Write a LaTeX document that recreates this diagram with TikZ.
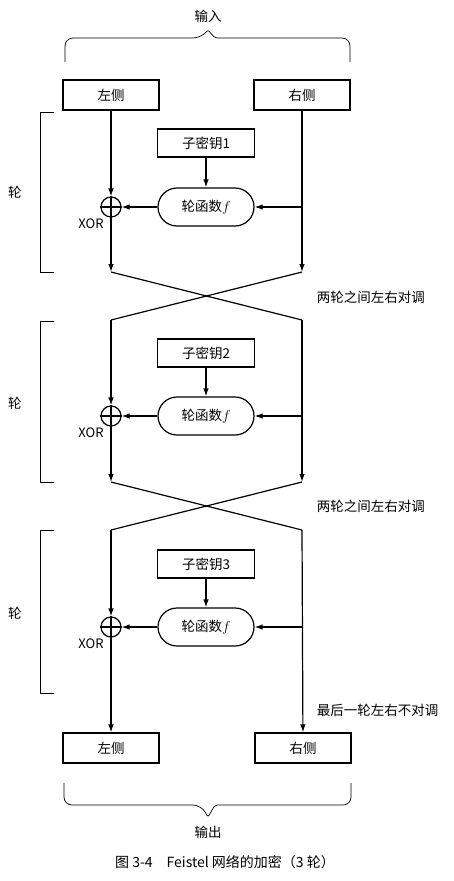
\documentclass[tikz,border=0pt]{standalone}
\usepackage{fontspec}
\setmainfont{Noto Sans CJK SC}
\usetikzlibrary{arrows.meta}

\begin{document}
\begin{tikzpicture}[x=1pt,y=-1pt,line width=1.2pt,>={Latex[length=8pt,width=5.5pt]},
  font=\fontsize{13.5}{15}\selectfont,
  box/.style={draw,minimum width=96pt,minimum height=30pt,inner sep=0pt},
  keybox/.style={draw,minimum width=97pt,minimum height=28pt,inner sep=0pt},
  func/.style={draw,rounded corners=19pt,minimum width=96pt,minimum height=38pt,inner sep=0pt},
  xorc/.style={draw,circle,minimum size=20pt,inner sep=0pt},
  thin/.style={line width=0.6pt},
  xorlab/.style={font=\fontsize{13}{15}\selectfont}]
\useasboundingbox (0,0) rectangle (454,881);
% input
  \node (inlab) at (208,16) {输入};
  \draw[line width=0.7pt,rounded corners=8pt] (65,62) |- (201,38) [rounded corners=2pt] -- (208,30) -- (215,38) [rounded corners=8pt] -| (350,62);
  \node[box] (inL) at (111,95) {左侧};
  \node[box] (inR) at (302,95) {右侧};

% round 1
  \draw[thin] (54,112) -- (40,112) -- (40,272) -- (54,272);
  \node (r1) at (15,192) {轮};
  \node[keybox] (k1) at (206,143) {子密钥1};
  \node[func] (f1) at (206,207) {轮函数$f$};
  \node[xorc] (x1) at (111,207) {};
  \node[xorlab] (xl1) at (91,224) {XOR};
  \coordinate (b1) at (302,207);
  \coordinate (cL1) at (111,272);
  \coordinate (cR1) at (302,272);
 \draw[->] (k1) -- (f1);
 \draw[->] (inL) -- (x1.north);
 \draw (x1.north) -- (x1.south) (x1.west) -- (x1.east);
 \draw[->] (x1.south) -- (cL1);
 \draw[->] (inR) -- (cR1);
 \draw[->] (b1) -- (f1.east);
 \draw[->] (f1.west) -- (x1.east);

% swap 1
  \coordinate (tL2) at (111,320);
  \coordinate (tR2) at (302,320);
 \draw (cL1) -- (tR2);
 \draw (cR1) -- (tL2);
  \node[anchor=west] (sw1) at (313,297) {两轮之间左右对调};

% round 2
  \draw[thin] (54,321) -- (40,321) -- (40,482) -- (54,482);
  \node (r2) at (15,403) {轮};
  \node[keybox] (k2) at (206,353) {子密钥2};
  \node[func] (f2) at (206,416) {轮函数$f$};
  \node[xorc] (x2) at (111,416) {};
  \node[xorlab] (xl2) at (91,433) {XOR};
  \coordinate (b2) at (302,416);
  \coordinate (cL2) at (111,482);
  \coordinate (cR2) at (302,482);
 \draw[->] (k2) -- (f2);
 \draw[->] (tL2) -- (x2.north);
 \draw (x2.north) -- (x2.south) (x2.west) -- (x2.east);
 \draw[->] (x2.south) -- (cL2);
 \draw[->] (tR2) -- (cR2);
 \draw[->] (b2) -- (f2.east);
 \draw[->] (f2.west) -- (x2.east);

% swap 2
  \coordinate (tL3) at (111,530);
  \coordinate (tR3) at (302,530);
 \draw (cL2) -- (tR3);
 \draw (cR2) -- (tL3);
  \node[anchor=west] (sw2) at (313,506) {两轮之间左右对调};

% round 3
  \draw[thin] (54,530) -- (40,530) -- (40,693) -- (54,693);
  \node (r3) at (15,613) {轮};
  \node[keybox] (k3) at (206,564) {子密钥3};
  \node[func] (f3) at (206,627) {轮函数$f$};
  \node[xorc] (x3) at (111,627) {};
  \node[xorlab] (xl3) at (91,644) {XOR};
  \coordinate (b3) at (302,627);
 \draw[->] (k3) -- (f3);
 \draw[->] (tL3) -- (x3.north);
 \draw (x3.north) -- (x3.south) (x3.west) -- (x3.east);
 \draw[->] (b3) -- (f3.east);
 \draw[->] (f3.west) -- (x3.east);

% output
  \node[box] (outL) at (111,748) {左侧};
  \node[box] (outR) at (303,748) {右侧};
 \draw[->] (x3.south) -- (outL);
 \draw[->] (tR3) -- (outR);
  \node[anchor=west] (nosw) at (313,710) {最后一轮左右不对调};
  \draw[line width=0.7pt,rounded corners=8pt] (64,783) |- (201,805) [rounded corners=2pt] -- (208,817) -- (215,805) [rounded corners=8pt] -| (351,783);
  \node (outlab) at (208,832) {输出};
  \node[font=\fontsize{14}{16}\selectfont] (cap) at (225,862) {图 3-4\quad Feistel 网络的加密（3 轮）};
\end{tikzpicture}
\end{document}
